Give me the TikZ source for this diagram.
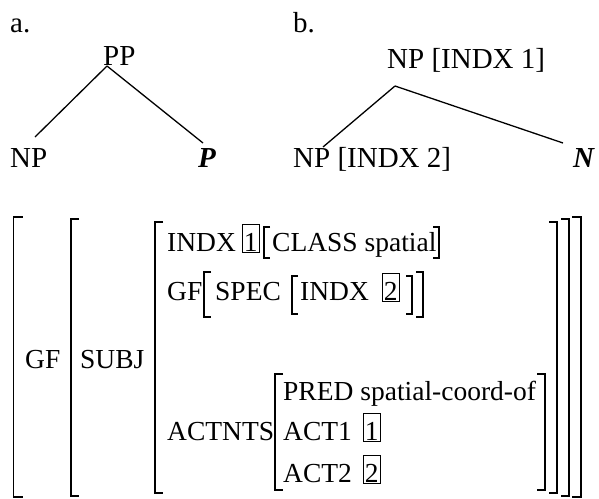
\documentclass[tikz,border=0pt]{standalone}
\usepackage{fontspec}
\setmainfont{Liberation Serif}
\newcommand\avmLB[4]{\draw[brk] ({#1+#4},#2) -- (#1,#2) -- (#1,#3) -- ({#1+#4},#3);}
\newcommand\avmRB[4]{\draw[brk] ({#1-#4},#2) -- (#1,#2) -- (#1,#3) -- ({#1-#4},#3);}
\begin{document}
\begin{tikzpicture}[x=1pt,y=-1pt,
  txt/.style={inner sep=0pt, anchor=base west, font=\fontsize{27.5}{33}\selectfont},
  ttxt/.style={inner sep=0pt, anchor=base west, font=\fontsize{29}{34}\selectfont},
  bx/.style={txt, draw, line width=0.8pt, inner xsep=1.5pt, inner ysep=0pt, text height=27pt, text depth=1.5pt},
  edge/.style={line width=1.3pt},
  brk/.style={line width=1.1pt}]
\useasboundingbox (0,0) rectangle (599,498);
% tree a
\node[ttxt] (la) at (10,32) {a.};
\node[ttxt] (pp) at (103,65) {PP};
\node[ttxt] (npa) at (10,167) {NP};
\node[ttxt] (pa) at (198,167) {\textbf{\textit{P}}};
\coordinate (ppb) at (107,66);
\coordinate (npat) at (35,137);
\coordinate (pat) at (203,143);
\draw[edge] (ppb) -- (npat);
\draw[edge] (ppb) -- (pat);
% tree b
\node[ttxt] (lb) at (293,32) {b.};
\node[ttxt] (npb) at (387,68) {NP [INDX 1]};
\node[ttxt] (npc) at (293,167) {NP [INDX 2]};
\node[ttxt] (nb) at (573,167) {\textbf{\textit{N}}};
\coordinate (npbb) at (395,86);
\coordinate (npct) at (323,147);
\coordinate (nbt) at (563,143);
\draw[edge] (npbb) -- (npct);
\draw[edge] (npbb) -- (nbt);
% AVM brackets
\avmLB{13.5}{217}{497}{9}
\avmRB{581}{217}{497}{9}
\avmLB{71}{219}{496}{8}
\avmRB{569}{219}{496}{8}
\avmLB{155}{222}{493}{8}
\avmRB{557}{222}{493}{8}
\avmLB{264}{227}{258}{6}
\avmRB{439}{227}{258}{6}
\avmLB{204}{272}{317}{7}
\avmRB{423}{272}{317}{7}
\avmLB{292}{276}{314}{6}
\avmRB{412}{276}{314}{6}
\avmLB{275}{374}{490}{8}
\avmRB{545}{374}{490}{8}
% AVM text
\node[txt] (gf0) at (25,368) {GF};
\node[txt] (subj) at (80,368) {SUBJ};
\node[txt] (indx) at (167,251) {INDX};
\node[bx] (b1) at (242,251) {1};
\node[txt] (cls) at (272,251) {CLASS spatial};
\node[txt] (gf1) at (167,300) {GF};
\node[txt] (spec) at (215,300) {SPEC};
\node[txt] (indx2) at (300,300) {INDX};
\node[bx] (b2) at (382,300) {2};
\node[txt] (act) at (167,440) {ACTNTS};
\node[txt] (pred) at (283,400) {PRED spatial-coord-of};
\node[txt] (act1) at (283,440) {ACT1};
\node[bx] (b3) at (363,440) {1};
\node[txt] (act2) at (283,482) {ACT2};
\node[bx] (b4) at (363,482) {2};
\end{tikzpicture}
\end{document}
